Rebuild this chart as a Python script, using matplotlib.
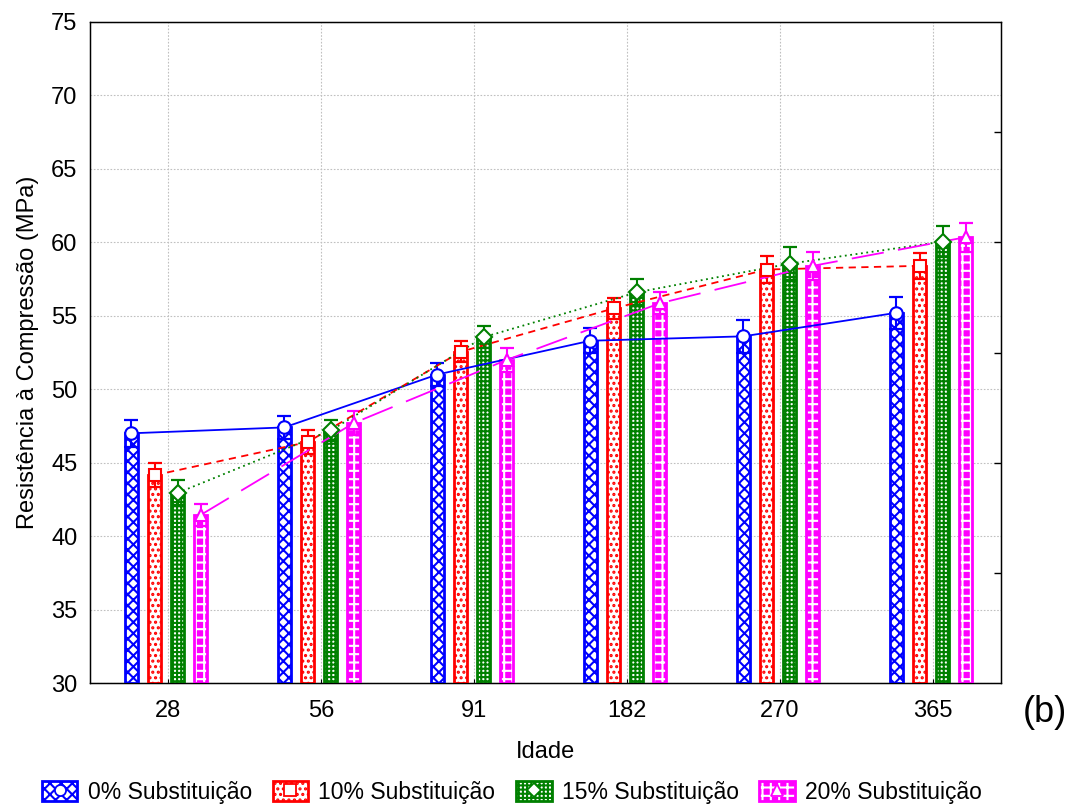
import matplotlib
matplotlib.use("Agg")
import matplotlib.pyplot as plt
from matplotlib.patches import Patch
from matplotlib.lines import Line2D
from matplotlib.legend_handler import HandlerTuple
import numpy as np

plt.rcParams['font.family'] = ['Liberation Sans', 'DejaVu Sans']
plt.rcParams['hatch.linewidth'] = 1.5

ages = ['28', '56', '91', '182', '270', '365']
series = ['0% Substituição', '10% Substituição', '15% Substituição', '20% Substituição']
v0 = [47.0, 47.4, 51.0, 53.3, 53.6, 55.2]
e0 = [0.9, 0.8, 0.8, 0.85, 1.1, 1.1]
v10 = [44.15, 46.4, 52.55, 55.5, 58.15, 58.4]
e10 = [0.8, 0.8, 0.7, 0.7, 0.9, 0.9]
v15 = [42.95, 47.2, 53.55, 56.6, 58.55, 60.05]
e15 = [0.85, 0.7, 0.75, 0.9, 1.1, 1.05]
v20 = [41.45, 47.7, 52.0, 55.85, 58.4, 60.35]
e20 = [0.75, 0.8, 0.8, 0.75, 0.95, 1.0]

values = [v0, v10, v15, v20]
errors = [e0, e10, e15, e20]
colors = ['#0000ff', '#ff0000', '#008000', '#ff00ff']
offsets = [-0.24, -0.087, 0.065, 0.215]
width = 0.085
# (face, hatch colour, hatch)
styles = [('white', '#0000ff', 'xxx'),
          ('white', '#ff0000', '...'),
          ('white', '#008000', '++++'),
          ('#ff00ff', 'white', '++')]
markers = ['o', 's', 'D', '^']
msizes = [9, 9, 8, 9]
lstyles = [dict(linestyle='-'), dict(dashes=(4, 3)), dict(dashes=(1, 2)), dict(dashes=(18, 8))]

fig = plt.figure(figsize=(10.72, 8.07), dpi=100)
ax = fig.add_axes([90/1072, 1-683/807, 911/1072, 661/807])

x = np.arange(len(ages))
for i in range(4):
    xp = x + offsets[i]
    face, hc, hatch = styles[i]
    ax.bar(xp, np.array(values[i]) - 30, bottom=30, width=width, color=face,
           edgecolor=hc, hatch=hatch, linewidth=0, zorder=2)
    ax.bar(xp, np.array(values[i]) - 30, bottom=30, width=width, fill=False,
           edgecolor=colors[i], linewidth=2.0, zorder=3)
    ax.errorbar(xp, values[i], yerr=errors[i], fmt='none', ecolor=colors[i],
                elinewidth=1.5, capsize=5, capthick=1.6, zorder=4)
for i in range(4):
    xp = x + offsets[i]
    ax.plot(xp, values[i], color=colors[i], lw=1.3, zorder=5, **lstyles[i])
    ax.plot(xp, values[i], linestyle='none', marker=markers[i], ms=msizes[i],
            mfc='white', mec=colors[i], mew=1.5, zorder=6)

ax.set_xlim(-0.51, 5.445)
ax.set_ylim(30, 75)
ax.set_yticks(np.arange(30, 76, 5))
ax.set_xticks(x)
ax.set_xticklabels(ages)
ax.grid(True, color='#c0c0c0', linestyle=(0, (1.5, 1.5)), linewidth=0.8, zorder=0)
ax.set_axisbelow(True)
ax.tick_params(axis='y', length=0, pad=9, labelsize=17)
ax.tick_params(axis='x', direction='in', length=3, pad=12, labelsize=17)
for s in ax.spines.values():
    s.set_linewidth(1.0)

ax2 = ax.twinx()
ax2.set_ylim(30, 75)
ax2.set_yticks([37.5, 45, 52.5, 60, 67.5])
ax2.tick_params(axis='y', direction='in', length=5, width=1.0, labelright=False)

ax.set_xlabel('Idade', fontsize=17, labelpad=14)
ax.set_ylabel('Resistência à Compressão (MPa)', fontsize=17, labelpad=9)

fig.text(1045/1072, 1-712/807, '(b)', ha='center', va='center', fontsize=26)

handles = []
for i in range(4):
    face, hc, hatch = styles[i]
    p1 = Patch(facecolor=face, edgecolor=hc, hatch=hatch, linewidth=0)
    p2 = Patch(fill=False, edgecolor=colors[i], linewidth=2.0)
    m = Line2D([], [], linestyle='none', marker=markers[i], ms=msizes[i] - 1,
               mfc='white', mec=colors[i], mew=1.3)
    handles.append((p1, p2, m))
fig.legend(handles, series, loc='center', bbox_to_anchor=(512/1072, 1-792/807),
           ncol=4, frameon=False, fontsize=16.5, handlelength=1.55,
           handleheight=0.95, handletextpad=0.45, columnspacing=0.9,
           borderpad=0, handler_map={tuple: HandlerTuple(ndivide=1, pad=0)})

fig.savefig('out.png', dpi=100)
